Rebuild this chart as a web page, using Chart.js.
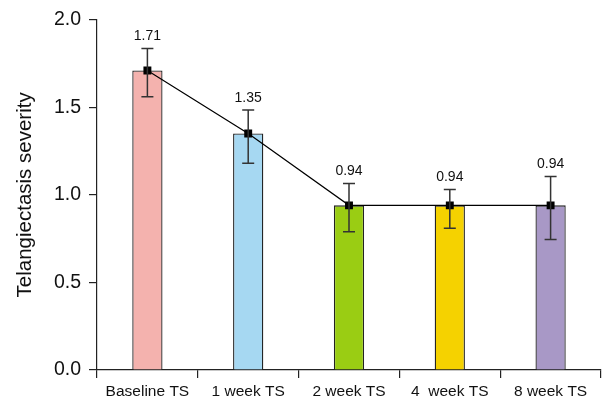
<!DOCTYPE html>
<html>
<head>
<meta charset="utf-8">
<script src="https://cdn.jsdelivr.net/npm/chart.js@4"></script>
<style>
  html, body { margin: 0; padding: 0; background: #fff; }
  #wrap { width: 615px; height: 405px; }
</style>
</head>
<body>
<div id="wrap"><canvas id="c" width="615" height="405"></canvas></div>
<script>
const categories = ['Baseline TS', '1 week TS', '2 week TS', '4  week TS', '8 week TS'];
const means = [1.71, 1.35, 0.94, 0.94, 0.94];
const errLow = [1.56, 1.18, 0.79, 0.81, 0.745];
const errHigh = [1.835, 1.485, 1.065, 1.03, 1.105];
const barColors = ['#F4B2AE', '#A6D8F2', '#9ACD13', '#F5D200', '#A898C6'];
const yTicks = [0, 0.5, 1.0, 1.5, 2.0];

const FONT = '"Liberation Sans", Arial, sans-serif';

// Error bars with caps plus value labels above each bar
const errorBarPlugin = {
  id: 'errorBars',
  afterDatasetsDraw(chart) {
    const ctx = chart.ctx;
    const y = chart.scales.y;
    const meta = chart.getDatasetMeta(0);
    ctx.save();
    meta.data.forEach((pt, i) => {
      const cx = pt.x;
      const yHi = y.getPixelForValue(errHigh[i]);
      const yLo = y.getPixelForValue(errLow[i]);
      ctx.strokeStyle = '#333';
      ctx.lineWidth = 1.5;
      ctx.beginPath();
      ctx.moveTo(cx, yHi); ctx.lineTo(cx, yLo);
      ctx.moveTo(cx - 6, yHi); ctx.lineTo(cx + 6, yHi);
      ctx.moveTo(cx - 6, yLo); ctx.lineTo(cx + 6, yLo);
      ctx.stroke();
      ctx.fillStyle = '#111';
      ctx.font = '14px ' + FONT;
      ctx.textAlign = 'center';
      ctx.textBaseline = 'bottom';
      ctx.fillText(means[i].toFixed(2), cx, yHi - 5);
    });
    ctx.restore();
  }
};

new Chart(document.getElementById('c'), {
  data: {
    labels: categories,
    datasets: [
      {
        type: 'line',
        data: means,
        borderColor: '#000',
        borderWidth: 1.2,
        pointStyle: 'rect',
        pointRadius: 5.6,
        pointBackgroundColor: '#000',
        pointBorderColor: '#000',
        pointBorderWidth: 0,
        tension: 0,
        order: 0
      },
      {
        type: 'bar',
        data: means,
        backgroundColor: barColors,
        borderColor: '#222',
        borderWidth: 1.3,
        borderSkipped: 'bottom',
        categoryPercentage: 1.0,
        barPercentage: 0.3,
        order: 1
      }
    ]
  },
  plugins: [errorBarPlugin],
  options: {
    responsive: false,
    animation: false,
    devicePixelRatio: 1,
    layout: { padding: { top: 12, right: 14, left: 0, bottom: 0 } },
    plugins: { legend: { display: false }, tooltip: { enabled: false } },
    scales: {
      x: {
        type: 'category',
        offset: true,
        afterFit(axis) { axis.height = 35; },
        grid: {
          offset: true,
          drawOnChartArea: false,
          drawTicks: true,
          tickLength: 8,
          color: '#222',
          lineWidth: 1.2
        },
        border: { color: '#222', width: 1.2 },
        ticks: { color: '#111', font: { family: FONT, size: 15.5 }, padding: 4, maxRotation: 0 }
      },
      y: {
        min: 0,
        max: 2.0,
        afterFit(axis) { axis.width = 97; },
        afterBuildTicks(axis) { axis.ticks = yTicks.map(v => ({ value: v })); },
        grid: {
          drawOnChartArea: false,
          drawTicks: true,
          tickLength: 8,
          color: '#222',
          lineWidth: 1.2
        },
        border: { color: '#222', width: 1.2 },
        ticks: {
          color: '#111',
          font: { family: FONT, size: 19.5 },
          padding: 8,
          callback: v => Number(v).toFixed(1)
        },
        title: {
          display: true,
          text: 'Telangiectasis severity',
          color: '#111',
          font: { family: FONT, size: 20.5 },
          padding: { top: 13, bottom: 0 }
        }
      }
    }
  }
});
</script>
</body>
</html>
